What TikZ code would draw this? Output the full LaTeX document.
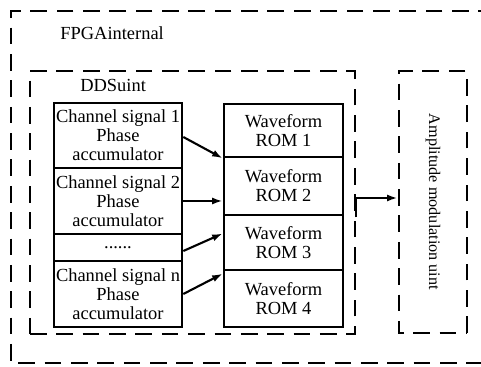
\documentclass[tikz,border=0pt]{standalone}
\usepackage{fontspec}
\setmainfont{Liberation Serif}
\usetikzlibrary{arrows.meta, positioning, calc}

\begin{document}
\begin{tikzpicture}[x=0.02cm, y=-0.02cm]
        \tikzstyle{box} = [rectangle, draw=black, line width=1.5pt, inner xsep=0pt, inner ysep=0pt, align=center, font=\fontsize{10.5}{10.8}\selectfont]
        \tikzstyle{chan} = [box, minimum width=2.56cm, minimum height=1.32cm]
        \tikzstyle{rom} = [box, minimum width=2.38cm]
        \tikzstyle{group} = [rectangle, draw=black, line width=1.6pt, dash pattern=on 9.5pt off 5.5pt]
        \tikzstyle{title} = [anchor=west, inner sep=0pt, font=\fontsize{10.5}{12}\selectfont]
        \tikzstyle{arrow} = [-{Latex[length=6pt, width=4pt]}, line width=1.2pt, black]

        \clip (0,0) rectangle (481,367);

        % FPGA
        \draw[group] (495,11) -- (11,11) -- (11,363) -- (495,363);
        \node[title] (fpgalabel) at (60,33) {FPGAinternal};

        % DDS unit
        \node[group, minimum width=6.5cm, minimum height=5.26cm] (dds) at (192.5,202.5) {};
        \node[title] (ddslabel) at (80,85) {DDSuint};

        % Channels
        \node[chan, minimum height=1.3cm] (ch1) at (118,135.5) {Channel signal 1\\Phase\\accumulator};
        \node[chan] (ch2) at (118,201) {Channel signal 2\\Phase\\accumulator};
        \node[chan, minimum height=0.54cm] (dots) at (118,247.5) {......};
        \node[chan] (chn) at (118,294) {Channel signal n\\Phase\\accumulator};

        % ROMs
        \node[rom, minimum height=1.06cm] (rom1) at (283.5,130.5) {Waveform\\ROM 1};
        \node[rom, minimum height=1.16cm] (rom2) at (283.5,186) {Waveform\\ROM 2};
        \node[rom, minimum height=1.1cm] (rom3) at (283.5,242.5) {Waveform\\ROM 3};
        \node[rom, minimum height=1.14cm] (rom4) at (283.5,298.5) {Waveform\\ROM 4};

        % Amplitude modulation
        \node[group, rotate=-90, minimum width=5.24cm, minimum height=1.36cm, font=\fontsize{9.2}{11}\selectfont] (amp) at (433,202) {Amplitude modulation uint};

        \draw[arrow] ($(ch1.east)+(0,1.5)$) -- (rom1.south west);
        \draw[arrow] (ch2.east) -- (ch2.east -| rom2.west);
        \draw[arrow] ($(dots.east)+(0,3.5)$) -- ($(rom3.west)+(0,-9)$);
        \draw[arrow] (chn.east) -- ($(rom4.north west)+(0,5)$);

        \coordinate (ddsout) at ($(dds.east)+(0,15)$);
        \draw[arrow] (ddsout) |- ($(amp.south)+(0,-4)$);
    \end{tikzpicture}
\end{document}
